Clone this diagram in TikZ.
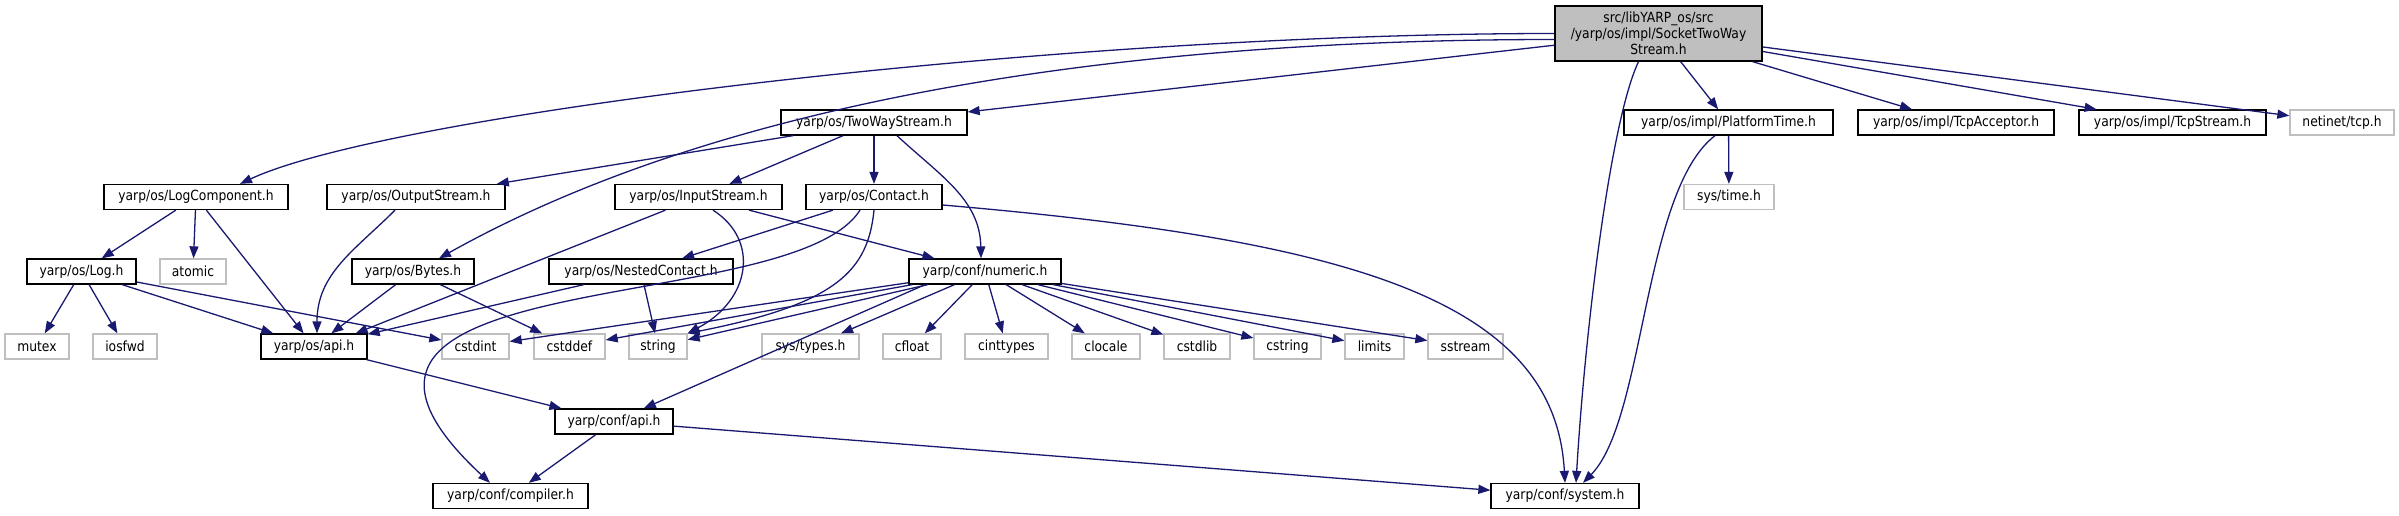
\documentclass[tikz,border=0pt]{standalone}
\usepackage{fontspec}
\setmainfont{DejaVu Sans}[FakeStretch=0.88]
\usepackage{tikz}
\usetikzlibrary{arrows.meta}
\definecolor{edgeblue}{HTML}{191970}
\definecolor{extgray}{HTML}{BFBFBF}
\tikzset{
  % --- include graph boxes ---
  hdr/.style={draw=black, fill=white, line width=1.3pt, inner sep=0pt,
    minimum height=25pt, font=\fontsize{14pt}{16pt}\selectfont},
  syshdr/.style={hdr, draw=extgray},
  mainhdr/.style={hdr, fill=extgray, align=center, minimum height=55pt},
  % --- include edges ---
  incl/.style={-{Triangle[length=12pt, width=9pt]}, line width=1.3pt, draw=edgeblue},
}

\begin{document}
\begin{tikzpicture}[x=1pt, y=1pt]
    \useasboundingbox (0,0) rectangle (2399,-515);
    % ---- File of this graph ----
    \node[mainhdr, minimum width=207pt] (top) at (1658.5,-33.5)
      {src/libYARP\_os/src\\/yarp/os/impl/SocketTwoWay\\Stream.h};
    % ---- First level ----
    \node[hdr, minimum width=186pt] (twoway) at (874,-122.5) {yarp/os/TwoWayStream.h};
    \node[hdr, minimum width=209pt] (ptime) at (1728.5,-122.5) {yarp/os/impl/PlatformTime.h};
    \node[hdr, minimum width=196pt] (tcpacc) at (1956,-122.5) {yarp/os/impl/TcpAcceptor.h};
    \node[hdr, minimum width=187pt] (tcpstr) at (2172.5,-122.5) {yarp/os/impl/TcpStream.h};
    \node[syshdr, minimum width=104pt] (netinet) at (2342,-122.5) {netinet/tcp.h};
    % ---- Second level ----
    \node[hdr, minimum width=184pt] (logc) at (196,-197) {yarp/os/LogComponent.h};
    \node[hdr, minimum width=178pt] (ostream) at (416,-197) {yarp/os/OutputStream.h};
    \node[hdr, minimum width=167pt] (istream) at (698.5,-197) {yarp/os/InputStream.h};
    \node[hdr, minimum width=136pt] (contact) at (874,-197) {yarp/os/Contact.h};
    \node[syshdr, minimum width=90pt] (systime) at (1729,-197) {sys/time.h};
    % ---- Third level ----
    \node[hdr, minimum width=109pt] (log) at (81.5,-271.5) {yarp/os/Log.h};
    \node[syshdr, minimum width=66pt] (atomic) at (193,-271.5) {atomic};
    \node[hdr, minimum width=122pt] (bytes) at (413,-271.5) {yarp/os/Bytes.h};
    \node[hdr, minimum width=184pt] (nested) at (641,-271.5) {yarp/os/NestedContact.h};
    \node[hdr, minimum width=152pt] (numeric) at (985,-271.5) {yarp/conf/numeric.h};
    % ---- Fourth level ----
    \node[hdr, minimum width=106pt] (osapi) at (314,-346.5) {yarp/os/api.h};
    \foreach \nm/\x/\w/\txt in {mutex/37/64/mutex, iosfwd/125/64/iosfwd,
        cstdint/475.5/67/cstdint, cstddef/569.5/71/cstddef, string/658/58/string,
        systypes/810.5/97/sys\slash types.h, cfloat/912/58/cfloat,
        cinttypes/1006.5/83/cinttypes, clocale/1106/68/clocale,
        cstdlib/1197/66/cstdlib, cstring/1287.5/67/cstring,
        limits/1374.5/59/limits, sstream/1465.5/75/sstream}
      \node[syshdr, minimum width=\w pt] (\nm) at (\x,-346.5) {\txt};
    % ---- Bottom levels ----
    \node[hdr, minimum width=118pt] (confapi) at (614,-421.5) {yarp/conf/api.h};
    \node[hdr, minimum width=155pt] (compiler) at (510.5,-496) {yarp/conf/compiler.h};
    \node[hdr, minimum width=148pt] (system) at (1565,-496) {yarp/conf/system.h};
    % ---- Includes of the main file ----
    \draw[incl] (top.west) .. controls +(-500,0) and +(150,70) .. ([xshift=44pt]logc.north);
    \draw[incl] ([yshift=-6pt]top.west) .. controls +(-500,0) and +(250,140) .. ([xshift=26pt]bytes.north);
    \draw[incl] ([xshift=-20pt]top.south) .. controls +(-28,-59) and +(9,153) .. ([xshift=11pt]system.north);
    \foreach \t in {twoway,ptime,tcpacc,tcpstr,netinet}{ \draw[incl] (top) -- (\t); }
    % ---- TwoWayStream ----
    \foreach \t in {ostream,istream,contact}{ \draw[incl] (twoway) -- (\t); }
    \draw[incl] ([xshift=23pt]twoway.south) .. controls +(43,-40) and +(-1,59) .. ([xshift=-4pt]numeric.north);
    % ---- Log ----
    \foreach \t in {log,atomic,osapi}{ \draw[incl] (logc) -- (\t); }
    \foreach \t in {mutex,iosfwd,osapi,cstdint}{ \draw[incl] (log) -- (\t); }
    % ---- Streams ----
    \draw[incl] ([xshift=-21pt]ostream.south) .. controls +(-40,-40) and +(0,60) .. ([xshift=3pt]osapi.north);
    \draw[incl] (istream) -- ([xshift=-12pt]osapi.north east);
    \draw[incl] ([xshift=14.5pt]istream.south) .. controls +(47,-30) and +(63,33.5) .. (string.north east);
    \draw[incl] (istream) -- (numeric);
    % ---- Contact ----
    \draw[incl] (contact) -- (nested);
    \draw[incl] ([xshift=-14pt]contact.south) .. controls +(-70,-110) and +(-240,223) .. ([xshift=-20.5pt]compiler.north);
    \draw[incl] (contact.south) .. controls +(-6,-60) and +(150,29.5) .. (string.north east);
    \draw[incl] ([yshift=-8pt]contact.east) .. controls +(408,-35) and +(-10,183) .. (system.north);
    \foreach \t in {osapi,string}{ \draw[incl] (nested) -- (\t); }
    \foreach \t in {osapi,cstddef}{ \draw[incl] (bytes) -- (\t); }
    % ---- numeric ----
    \foreach \t in {cstdint,cstddef,string,systypes,cfloat,cinttypes,clocale,cstdlib,cstring,limits,sstream}{
      \draw[incl] (numeric) -- (\t); }
    \draw[incl] ([xshift=-60pt]numeric.south) -- (confapi);
    % ---- PlatformTime ----
    \draw[incl] (ptime) -- (systime);
    \draw[incl] ([xshift=-13.5pt]ptime.south) .. controls +(-72,-55) and +(62,63) .. ([xshift=18pt]system.north);
    % ---- conf ----
    \draw[incl] (osapi) -- (confapi);
    \foreach \t in {compiler,system}{ \draw[incl] (confapi) -- (\t); }
  \end{tikzpicture}
\end{document}
